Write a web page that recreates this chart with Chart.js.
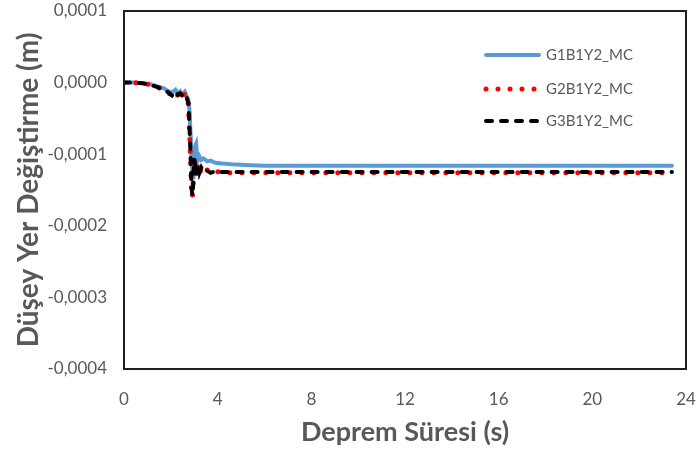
<!DOCTYPE html>
<html>
<head>
<meta charset="utf-8">
<script src="https://cdn.jsdelivr.net/npm/chart.js@4.4.1/dist/chart.umd.min.js"></script>
<style>
  html, body { margin: 0; padding: 0; background: #fff; }
  #wrap { width: 700px; height: 450px; }
</style>
</head>
<body>
<div id="wrap"><canvas id="myChart"></canvas></div>
<script>
// time (s)
const time = [0, 0.4, 0.8, 1.1, 1.4, 1.7, 1.9, 2.05, 2.2, 2.3, 2.4, 2.5, 2.6, 2.68, 2.75, 2.8, 2.84, 2.88, 2.92, 2.96, 3.0, 3.04, 3.08, 3.12, 3.16, 3.22, 3.3, 3.4, 3.55, 3.7, 3.9, 4.2, 4.6, 5.2, 6, 8, 12, 16, 20, 23.4];

// vertical displacement (m)
const g1b1y2 = [0, 0, -0.000001, -0.000002, -0.000005, -0.000008, -0.000012, -0.000014, -0.00001, -0.000015, -0.000012, -0.000017, -0.000013, -0.000019, -0.000024, -0.00004, -0.00007, -0.0001, -0.000125, -0.000135, -0.00011, -0.000088, -0.000085, -0.0001, -0.000108, -0.000103, -0.000108, -0.000106, -0.00011, -0.000109, -0.000112, -0.000113, -0.000114, -0.000115, -0.000116, -0.000116, -0.000116, -0.000116, -0.000116, -0.000116];
const g2b1y2 = [0, 0, -0.000001, -0.000003, -0.000006, -0.00001, -0.000015, -0.000017, -0.000012, -0.000018, -0.000014, -0.00002, -0.000015, -0.000022, -0.00003, -0.00007, -0.000105, -0.00015, -0.00016, -0.000135, -0.000108, -0.000118, -0.00013, -0.00012, -0.000117, -0.000128, -0.00012, -0.000126, -0.000122, -0.000126, -0.000124, -0.000125, -0.000126, -0.000126, -0.000126, -0.000126, -0.000126, -0.000126, -0.000126, -0.000126];
const g3b1y2 = [0, 0, -0.000001, -0.000003, -0.000006, -0.00001, -0.000014, -0.000018, -0.000012, -0.000017, -0.000015, -0.000019, -0.000016, -0.000021, -0.000029, -0.000065, -0.0001, -0.000145, -0.000158, -0.00014, -0.000107, -0.000115, -0.000128, -0.000122, -0.000116, -0.000126, -0.000119, -0.000125, -0.000123, -0.000126, -0.000124, -0.000125, -0.000125, -0.000125, -0.000125, -0.000125, -0.000125, -0.000125, -0.000125, -0.000125];

const seriesNames = ["G1B1Y2_MC", "G2B1Y2_MC", "G3B1Y2_MC"];

const textColor = "#595959";
const fontFamily = "Lato, 'Open Sans', sans-serif";

const toPoints = (vals) => vals.map((v, i) => ({ x: time[i], y: v }));

// keep chart.js from shrinking the plot for label overflow
const noPad = (scale) => {
  scale.paddingTop = 0;
  scale.paddingBottom = 0;
  scale.paddingLeft = 0;
  scale.paddingRight = 0;
};

// frame around the plot area + legend inside it
const framePlugin = {
  id: "frame",
  afterDatasetsDraw(chart) {
    const { ctx, chartArea } = chart;
    ctx.save();
    ctx.strokeStyle = "#1f1f1f";
    ctx.lineWidth = 2;
    ctx.strokeRect(chartArea.left, chartArea.top,
      chartArea.right - chartArea.left, chartArea.bottom - chartArea.top);
    ctx.restore();
  },
  afterDraw(chart) {
    const { ctx } = chart;
    const rows = [55, 89, 121];
    ctx.save();
    chart.data.datasets.forEach((ds, i) => {
      const y = rows[i];
      ctx.beginPath();
      ctx.strokeStyle = ds.borderColor;
      ctx.lineWidth = ds.borderWidth;
      ctx.lineCap = ds.borderCapStyle || "butt";
      ctx.setLineDash(ds.borderDash || []);
      ctx.moveTo(486, y);
      ctx.lineTo(539, y);
      ctx.stroke();
      ctx.setLineDash([]);
      ctx.fillStyle = textColor;
      ctx.font = "15px " + fontFamily;
      ctx.textBaseline = "middle";
      ctx.textAlign = "left";
      ctx.fillText(ds.label, 546, y);
    });
    ctx.restore();
  },
};

new Chart(document.getElementById("myChart"), {
  type: "line",
  data: {
    datasets: [
      {
        label: seriesNames[0],
        data: toPoints(g1b1y2),
        borderColor: "#5b9bd5",
        borderWidth: 4,
        borderCapStyle: "round",
        pointRadius: 0,
        order: 3,
      },
      {
        label: seriesNames[1],
        data: toPoints(g2b1y2),
        borderColor: "#ff0000",
        borderWidth: 5,
        borderDash: [0, 12],
        borderCapStyle: "round",
        pointRadius: 0,
        order: 2,
      },
      {
        label: seriesNames[2],
        data: toPoints(g3b1y2),
        borderColor: "#000000",
        borderWidth: 4,
        borderDash: [6, 9],
        borderCapStyle: "round",
        pointRadius: 0,
        order: 1,
      },
    ],
  },
  options: {
    responsive: true,
    maintainAspectRatio: false,
    animation: false,
    layout: { padding: { top: 11, right: 14, left: 0, bottom: 0 } },
    plugins: {
      legend: { display: false },
      tooltip: { enabled: false },
    },
    scales: {
      x: {
        type: "linear",
        min: 0,
        max: 24,
        ticks: { stepSize: 4, color: textColor, padding: 20, font: { family: fontFamily, size: 17 } },
        grid: { display: false, drawTicks: false },
        border: { display: false },
        title: {
          display: true,
          text: "Deprem Süresi (s)",
          color: textColor,
          padding: { bottom: 2 },
          font: { family: fontFamily, size: 27, weight: "bold" },
        },
        afterFit(scale) { scale.height = 81; noPad(scale); },
      },
      y: {
        min: -0.0004,
        max: 0.0001,
        ticks: {
          stepSize: 0.0001,
          color: textColor,
          padding: 17,
          font: { family: fontFamily, size: 17 },
          callback: (v) => (Math.abs(v) < 1e-12 ? 0 : v).toFixed(4).replace(".", ","),
        },
        grid: { display: false, drawTicks: false },
        border: { display: false },
        title: {
          display: true,
          text: "Düşey Yer Değiştirme (m)",
          color: textColor,
          padding: { top: 12 },
          font: { family: fontFamily, size: 28, weight: "bold" },
        },
        afterFit(scale) { scale.width = 124; noPad(scale); },
      },
    },
  },
  plugins: [framePlugin],
});
</script>
</body>
</html>
